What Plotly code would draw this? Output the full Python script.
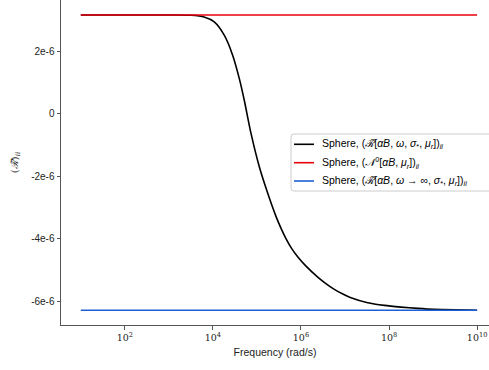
import plotly.graph_objects as go

# Angular frequency samples, as decade exponents (rad/s = 10**exponent)
log_freq = [1.0, 3.0, 3.5, 3.8, 4.03, 4.257, 4.448, 4.598, 4.711, 4.864,
            5.052, 5.243, 5.432, 5.55, 5.659, 5.79, 5.925, 6.114, 6.38, 6.55,
            6.757, 6.95, 7.136, 7.516, 7.893, 8.273, 8.652, 9.023, 9.5, 10.0]
# Diagonal entry of the eddy-current tensor at each frequency
r_tilde = [3.153e-6, 3.152e-6, 3.143e-6, 3.089e-6, 2.930e-6, 2.506e-6,
           1.869e-6, 1.127e-6, 0.436e-6, -0.624e-6, -1.688e-6, -2.535e-6,
           -3.280e-6, -3.670e-6, -3.990e-6, -4.310e-6, -4.570e-6, -4.870e-6,
           -5.220e-6, -5.410e-6, -5.610e-6, -5.760e-6, -5.880e-6, -6.040e-6,
           -6.124e-6, -6.178e-6, -6.220e-6, -6.252e-6, -6.268e-6, -6.277e-6]
n0_value = 3.153e-6
r_inf_value = -6.277e-6

freq = [10 ** e for e in log_freq]

names = [
    "Sphere, (<i>ℛ̃</i>[<i>αB</i>, <i>ω</i>, <i>σ</i><sub>*</sub>, <i>μ<sub>r</sub></i>])<sub><i>ii</i></sub>",
    "Sphere, (<i>𝒩</i><sup>0</sup>[<i>αB</i>, <i>μ<sub>r</sub></i>])<sub><i>ii</i></sub>",
    "Sphere, (<i>ℛ̃</i>[<i>αB</i>, <i>ω</i> → ∞, <i>σ</i><sub>*</sub>, <i>μ<sub>r</sub></i>])<sub><i>ii</i></sub>",
]
colors = ["#000000", "#e8000b", "#1f5fd6"]

x_tickvals = [1e2, 1e4, 1e6, 1e8, 1e10]
x_ticktext = ["10<sup>2</sup>", "10<sup>4</sup>", "10<sup>6</sup>", "10<sup>8</sup>", "10<sup>10</sup>"]
y_tickvals = [2e-6, 0, -2e-6, -4e-6, -6e-6]
y_ticktext = ["2e-6", "0", "-2e-6", "-4e-6", "-6e-6"]

W, H = 489, 370
ML, MR, MT, MB = 61, 0, 0, 45

fig = go.Figure()
fig.add_trace(go.Scatter(x=freq, y=r_tilde, mode="lines", name=names[0],
                         line=dict(color=colors[0], width=1.6, shape="spline", smoothing=0.8),
                         showlegend=False))
fig.add_trace(go.Scatter(x=[freq[0], freq[-1]], y=[n0_value, n0_value], mode="lines",
                         name=names[1], line=dict(color=colors[1], width=1.6),
                         showlegend=False))
fig.add_trace(go.Scatter(x=[freq[0], freq[-1]], y=[r_inf_value, r_inf_value], mode="lines",
                         name=names[2], line=dict(color=colors[2], width=1.6),
                         showlegend=False))

# Legend drawn by hand as a rounded box with short line samples
pw, ph = W - ML - MR, H - MT - MB
def px(x):
    return (x - ML) / pw
def py(y):
    return (H - MB - y) / ph

x0, x1, y0, y1, r = 291, 500, 134, 191, 3
path = (f"M {px(x0 + r)},{py(y0)} L {px(x1)},{py(y0)} L {px(x1)},{py(y1)} "
        f"L {px(x0 + r)},{py(y1)} Q {px(x0)},{py(y1)} {px(x0)},{py(y1 - r)} "
        f"L {px(x0)},{py(y0 + r)} Q {px(x0)},{py(y0)} {px(x0 + r)},{py(y0)} Z")
fig.add_shape(type="path", path=path, xref="paper", yref="paper",
              line=dict(color="#cccccc", width=1), fillcolor="rgba(255,255,255,0.85)")
rows = [144.3, 162.7, 181.0]
for name, color, yy in zip(names, colors, rows):
    fig.add_shape(type="line", xref="paper", yref="paper",
                  x0=px(294), x1=px(314), y0=py(yy), y1=py(yy),
                  line=dict(color=color, width=1.6))
    fig.add_annotation(x=px(320), y=py(yy), xref="paper", yref="paper",
                       text=name, showarrow=False, xanchor="left", yanchor="middle",
                       font=dict(family="Liberation Sans, Arial, sans-serif", size=10.5, color="#000"))

fig.update_xaxes(type="log", range=[0.55, 10.27],
                 tickvals=x_tickvals, ticktext=x_ticktext,
                 tickfont=dict(family="DejaVu Serif, serif", size=9.5, color="#222"),
                 ticks="outside", ticklen=3.5, tickcolor="#555",
                 showline=True, linecolor="#555", linewidth=1, mirror=True,
                 showgrid=False, zeroline=False,
                 title=dict(text="Frequency (rad/s)", standoff=6,
                            font=dict(family="Liberation Sans, Arial, sans-serif", size=10.5, color="#222")))
fig.update_yaxes(range=[-6.75e-6, 3.63e-6],
                 tickvals=y_tickvals, ticktext=y_ticktext,
                 tickfont=dict(family="Liberation Sans, Arial, sans-serif", size=10, color="#222"),
                 ticks="outside", ticklen=3.5, tickcolor="#555",
                 showline=True, linecolor="#555", linewidth=1, mirror=False,
                 showgrid=False, zeroline=False,
                 title=dict(text="(<i>ℛ̃</i>)<sub><i>ii</i></sub>", standoff=10,
                            font=dict(family="DejaVu Serif, serif", size=10, color="#222")))

fig.update_layout(width=W, height=H, margin=dict(l=ML, r=MR, t=MT, b=MB),
                  plot_bgcolor="white", paper_bgcolor="white", showlegend=False)

fig.write_html("out.html")
